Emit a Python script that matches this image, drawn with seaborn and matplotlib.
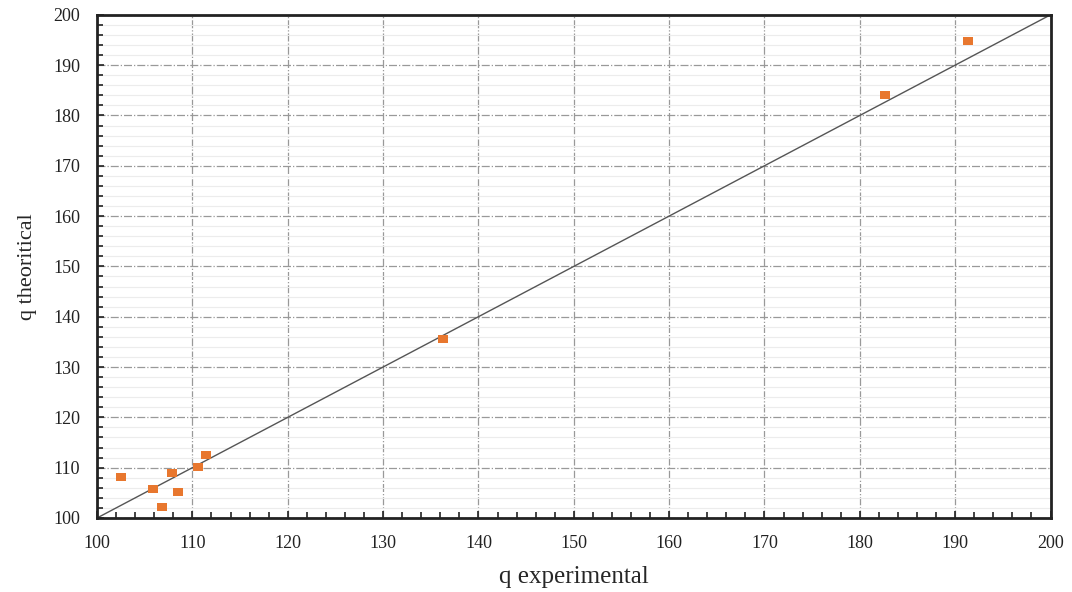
import numpy as np
import pandas as pd
import seaborn as sns
import matplotlib.pyplot as plt
from matplotlib.ticker import MultipleLocator

# values
q_exp = [102.5, 105.9, 106.8, 107.9, 108.5, 110.6, 111.4, 136.3, 182.6, 191.3]
q_theo = [108.2, 105.8, 102.2, 108.9, 105.2, 110.1, 112.5, 135.6, 184.1, 194.8]
line_x = [100, 200]

df = pd.DataFrame({"q experimental": q_exp, "q theoritical": q_theo})

sns.set_theme(style="white")
plt.rcParams['font.family'] = ['Liberation Serif', 'DejaVu Serif']

fig = plt.figure(figsize=(10.72, 5.92), dpi=100)
ax = fig.add_axes([0.0905, 0.125, 0.8895, 0.85])

# minor and major grid
ax.xaxis.set_major_locator(MultipleLocator(10))
ax.yaxis.set_major_locator(MultipleLocator(10))
ax.xaxis.set_minor_locator(MultipleLocator(2))
ax.yaxis.set_minor_locator(MultipleLocator(2))
ax.grid(which='minor', axis='y', color='#ececec', linewidth=0.8, linestyle='-')
ax.grid(which='major', color='#999999', linewidth=0.9, linestyle='-.')
ax.set_axisbelow(True)

sns.lineplot(x=line_x, y=line_x, ax=ax, color='#555555', linewidth=1.0)

# slightly wide square, like the reference
rect = [(-1.2, -1), (1.2, -1), (1.2, 1), (-1.2, 1), (-1.2, -1)]
sns.scatterplot(data=df, x="q experimental", y="q theoritical", ax=ax,
                marker=rect, s=50, color='#E8772E', edgecolor='none', zorder=3)

ax.set_xlim(100, 200)
ax.set_ylim(100, 200)

for sp in ax.spines.values():
    sp.set_visible(True)
    sp.set_color('#222222')
    sp.set_linewidth(2)

ax.tick_params(which='both', direction='in', colors='#222222', labelcolor='#222222',
               labelsize=13, bottom=True, left=True)
ax.tick_params(which='major', length=5, width=1.2, pad=12)
ax.tick_params(which='minor', length=4, width=1.2)

ax.set_xlabel("q experimental", fontsize=18, labelpad=10)
ax.set_ylabel("q theoritical", fontsize=16, labelpad=12)

fig.savefig("out.png", dpi=100)
